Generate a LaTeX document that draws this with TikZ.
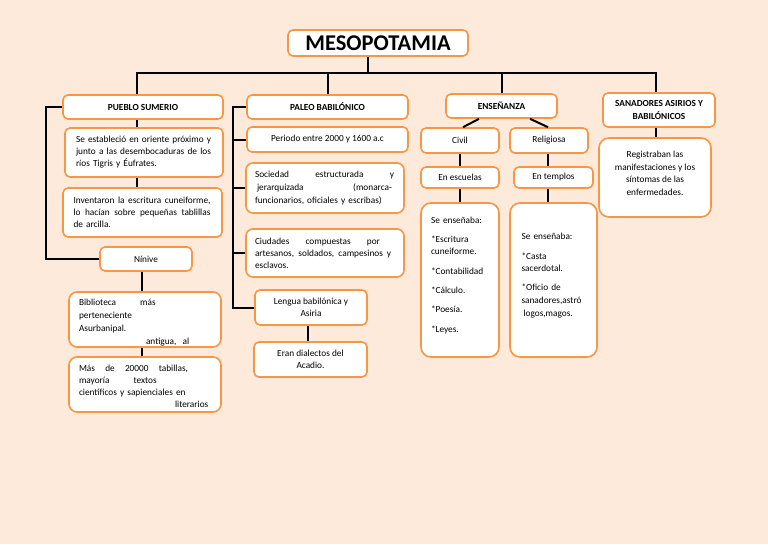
\documentclass[tikz,border=0pt]{standalone}
\usepackage{fontspec}
\setmainfont{Carlito}
\definecolor{bg}{RGB}{253,234,218}
\definecolor{og}{RGB}{247,150,70}
\newcommand\jl[2]{{\spaceskip=0pt\xspaceskip=0pt\makebox[#1][s]{#2}}}
\newcommand\bx[7][]{\node[box,minimum width={(#4-#2)*1pt},minimum height={(#5-#3)*1pt},#1] (#6) at ({(#2+#4)/2},{(#3+#5)/2}) {#7};}
\begin{document}
\begin{tikzpicture}[x=1pt,y=-1pt,
  box/.style={draw=og,line width=1.6pt,fill=white,rounded corners=5pt,inner sep=0pt,
    font=\fontsize{9.3}{12}\selectfont,align=center},
  hd/.style={font=\fontsize{9.3}{13}\selectfont\bfseries},
  ln/.style={line width=2pt,black}]
\fill[bg] (0,0) rectangle (768,544);
\useasboundingbox (0,0) rectangle (768,544);

\bx[font=\fontsize{22.5}{26}\selectfont\bfseries]{288}{30}{468}{56}{title}{MESOPOTAMIA}
\bx[hd]{63}{95}{223}{119}{ps}{PUEBLO SUMERIO}
\bx[hd]{247}{95}{408}{119}{pb}{PALEO BABILÓNICO}
\bx[hd]{446}{94}{557}{118}{en}{ENSEÑANZA}
\bx[hd]{603}{93}{715}{127}{san}{SANADORES ASIRIOS Y\\BABILÓNICOS}

\bx[text width=136pt,align=left]{65}{128}{223}{177}{se}{\jl{135pt}{Se estableció en oriente próximo y}\\\jl{135pt}{junto a las desembocaduras de los}\\ríos Tigris y Éufrates.}
\bx[text width=138pt,align=left]{63}{188}{222}{237}{inv}{\jl{137pt}{Inventaron la escritura cuneiforme,}\\\jl{137pt}{lo hacían sobre pequeñas tablillas}\\de arcilla.}
\bx{100}{247}{192}{271}{nin}{Nínive}
\bx[text width=132pt,align=left,rounded corners=8pt,font=\fontsize{9.3}{13}\selectfont]{69}{292}{221}{347}{bib}{\mbox{}\\[0pt]Biblioteca\hspace{24pt}más\\perteneciente\\Asurbanipal.\\\hspace*{67pt}antigua,\ \ al}
\bx[text width=132pt,align=left,rounded corners=8pt]{69}{357}{221}{412}{mas}{\mbox{}\\[-1pt]\jl{109pt}{Más de 20000 tabillas,}\\mayoría\hspace{24pt}textos\\científicos y sapienciales en\\\hspace*{96pt}literarios}

\bx{247}{127}{408}{152}{per}{Periodo entre 2000 y 1600 a.c}
\bx[text width=140pt,align=left,font=\fontsize{9.3}{13}\selectfont,rounded corners=7pt]{246}{163}{404}{213}{soc}{\jl{139pt}{Sociedad estructurada y}\\\hspace*{2pt}\jl{135pt}{jerarquizada (monarca-}\\funcionarios, oficiales y escribas)}
\bx[text width=140pt,align=left,rounded corners=7pt]{246}{229}{404}{277}{ciu}{\jl{125pt}{Ciudades compuestas por}\\\jl{136pt}{artesanos, soldados, campesinos y}\\esclavos.}
\bx{255}{290}{367}{325}{lg}{Lengua babilónica y\\Asiria}
\bx{254}{342}{367}{377}{er}{Eran dialectos del\\Acadio.}

\bx{421}{128}{499}{153}{civ}{Civil}
\bx{510}{128}{588}{153}{rel}{Religiosa}
\bx{421}{167}{499}{188}{esc}{En escuelas}
\bx{514}{167}{593}{188}{tem}{En templos}
\bx[text width=58pt,align=left,rounded corners=10pt]{421}{203}{499}{357}{cl}{Se enseñaba:\\[7pt]*Escritura\\cuneiforme.\\[8pt]*Contabilidad\\[7pt]*Cálculo.\\[7pt]*Poesía.\\[8pt]*Leyes.\\[-2pt]\mbox{}}
\bx[text width=64pt,align=left,rounded corners=10pt]{510}{203}{597}{357}{rl}{Se enseñaba:\\[8pt]*Casta\\sacerdotal.\\[7pt]*Oficio de\\[1pt]sanadores,astró\\[1pt]\hspace*{2pt}logos,magos.\\[-2pt]\mbox{}}
\bx[rounded corners=10pt,font=\fontsize{9.3}{12.5}\selectfont]{599}{138}{711}{217}{reg}{Registraban las\\manifestaciones y los\\síntomas de las\\enfermedades.\\[-4pt]\mbox{}}

\coordinate (bus) at (368,73);
\coordinate (c137) at (137,0);
\coordinate (c142) at (142,0);
\coordinate (c308) at (308,0);
\coordinate (c548) at (548,0);
\coordinate (c656) at (656,0);
\coordinate (lx) at (46,0);
\coordinate (px) at (233,0);
\coordinate (d1) at (479,0);
\coordinate (d2) at (463,0);
\coordinate (d3) at (530,0);

\draw[ln] (title.south -| bus) -- (bus);
\draw[ln] (ps.north -| c137) |- (bus) -| (san.north -| c656);
\draw[ln] (pb.north) -- (pb.north |- bus);
\draw[ln] (en.north) -- (en.north |- bus);

\draw[ln] (ps.west) -| (lx |- nin.west) -- (nin.west);
\draw[ln] (ps.south -| c137) -- (se.north -| c137);
\draw[ln] (se.south -| c137) -- (inv.north -| c137);
\draw[ln] (nin.south -| c142) -- (bib.north -| c142);
\draw[ln] (bib.south -| c142) -- (mas.north -| c142);

\draw[ln] (pb.west) -| (px |- lg.west) -- (lg.west);
\draw[ln] (px |- per.west) -- (per.west);
\draw[ln] (px |- soc.west) -- (soc.west);
\draw[ln] (px |- ciu.west) -- (ciu.west);
\draw[ln] (lg.south -| c308) -- (er.north -| c308);

\draw[ln] (en.south -| d1) -- (civ.north -| d2);
\draw[ln] (en.south -| d3) -- (rel.north -| c548);
\draw[ln] (civ.south) -- (esc.north);
\draw[ln] (esc.south) -- (cl.north);
\draw[ln] (rel.south -| c548) -- (tem.north -| c548);
\draw[ln] (tem.south -| c548) -- (rl.north -| c548);
\draw[ln] (san.south -| c656) -- (reg.north -| c656);
\end{tikzpicture}
\end{document}
